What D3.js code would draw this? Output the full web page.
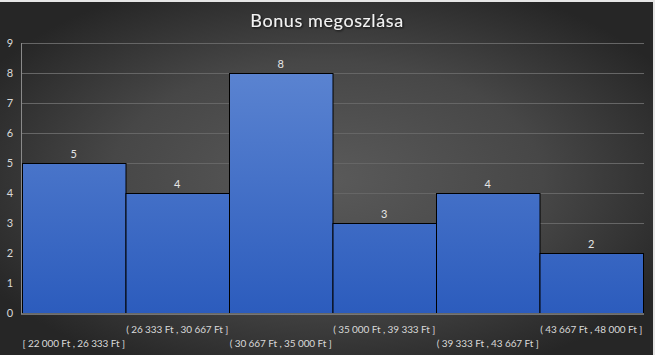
<!DOCTYPE html>
<html><head><meta charset="utf-8">
<script src="https://cdn.jsdelivr.net/npm/d3@7"></script>
<style>
html,body{margin:0;padding:0;background:#e6e6e6;overflow:hidden;}
svg{display:block;}
</style></head>
<body>
<script>
const title = "Bonus megoszlása";
const binLabels = [
  "[ 22 000 Ft ,  26 333 Ft ]",
  "( 26 333 Ft ,  30 667 Ft ]",
  "( 30 667 Ft ,  35 000 Ft ]",
  "( 35 000 Ft ,  39 333 Ft ]",
  "( 39 333 Ft ,  43 667 Ft ]",
  "( 43 667 Ft ,  48 000 Ft ]"
];
const counts = [5, 4, 8, 3, 4, 2];
const yTicks = [0,1,2,3,4,5,6,7,8,9];

const W = 655, H = 355;
const chartW = 653;
const m = {left: 22, right: chartW - 643, top: 43, bottom: H - 313};

const svg = d3.select("body").append("svg").attr("width", W).attr("height", H);
const defs = svg.append("defs");
const bg = defs.append("radialGradient").attr("id","bg")
  .attr("cx","50%").attr("cy","50%").attr("r","60%");
bg.append("stop").attr("offset","0%").attr("stop-color","#5a5a5a");
bg.append("stop").attr("offset","55%").attr("stop-color","#474747");
bg.append("stop").attr("offset","100%").attr("stop-color","#262626");

const bar = defs.append("linearGradient").attr("id","bar")
  .attr("gradientUnits","userSpaceOnUse").attr("x1",0).attr("x2",0).attr("y1",43).attr("y2",313);
bar.append("stop").attr("offset","0%").attr("stop-color","#6088d3");
bar.append("stop").attr("offset","100%").attr("stop-color","#2c5cbd");

const shadow = defs.append("filter").attr("id","sh").attr("x","-10%").attr("y","-30%").attr("width","120%").attr("height","160%");
shadow.append("feDropShadow").attr("dx",1).attr("dy",1).attr("stdDeviation",1).attr("flood-color","#000").attr("flood-opacity",0.8);

svg.append("rect").attr("x",0).attr("y",2).attr("width",chartW).attr("height",H-2).attr("fill","url(#bg)");

const x = d3.scaleBand().domain(binLabels).range([m.left, chartW - m.right]).padding(0);
const y = d3.scaleLinear().domain([0, 9]).range([H - m.bottom, m.top]);

// gridlines
svg.append("g").selectAll("line").data(yTicks.filter(d=>d>0)).join("line")
  .attr("x1", m.left).attr("x2", chartW - m.right + 1)
  .attr("y1", d=>y(d)+0.5).attr("y2", d=>y(d)+0.5)
  .attr("stroke","#666666").attr("stroke-width",1);

// bars
svg.append("g").selectAll("rect").data(counts).join("rect")
  .attr("x", (d,i)=>x(binLabels[i])+0.5)
  .attr("y", d=>y(d)+0.5)
  .attr("width", x.bandwidth())
  .attr("height", d=>y(0)-y(d))
  .attr("fill","url(#bar)")
  .attr("stroke","#000").attr("stroke-width",1);

// axes lines
svg.append("line").attr("x1",m.left-0.5).attr("x2",m.left-0.5).attr("y1",m.top).attr("y2",y(0)+1)
  .attr("stroke","#8a8a8a").attr("stroke-width",1);
svg.append("line").attr("x1",m.left-1).attr("x2",chartW - m.right + 1).attr("y1",y(0)+1).attr("y2",y(0)+1)
  .attr("stroke","#8a8a8a").attr("stroke-width",1.5);

const font = "Lato, 'Open Sans', sans-serif";
// y tick labels
svg.append("g").selectAll("text").data(yTicks).join("text")
  .attr("x", 10).attr("y", d=>y(d)).attr("dy","0.35em")
  .attr("text-anchor","middle").attr("font-family",font).attr("font-size",11)
  .attr("fill","#d9d9d9").text(d=>d);

// data labels
svg.append("g").selectAll("text").data(counts).join("text")
  .attr("x",(d,i)=>x(binLabels[i]) + x.bandwidth()/2)
  .attr("y", d=>y(d)-5)
  .attr("text-anchor","middle").attr("font-family",font).attr("font-size",11)
  .attr("fill","#e6e6e6").text(d=>d);

// x labels (staggered)
svg.append("g").selectAll("text").data(binLabels).join("text")
  .attr("x", d=>x(d) + x.bandwidth()/2)
  .attr("y", (d,i)=> i%2===0 ? 347 : 333)
  .attr("text-anchor","middle").attr("font-family",font).attr("font-size",10)
  .attr("letter-spacing","-0.1")
  .attr("fill","#d9d9d9").text(d=>d);

// title
svg.append("text").attr("x",327).attr("y",27)
  .attr("text-anchor","middle").attr("font-family",font).attr("font-size",18)
  .attr("letter-spacing","0.6")
  .attr("fill","#f2f2f2").attr("filter","url(#sh)").text(title);
</script>
</body></html>
